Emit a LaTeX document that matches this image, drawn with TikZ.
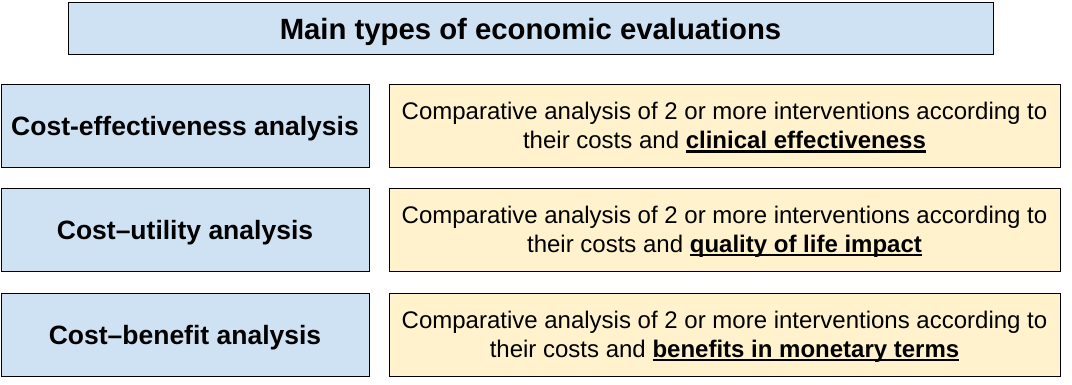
\documentclass[tikz,border=0pt]{standalone}
\usepackage{fontspec}
\setmainfont{Liberation Sans}
\definecolor{boxblue}{HTML}{CFE2F3}
\definecolor{boxyellow}{HTML}{FFF2CC}
\newcommand\ulbar[1]{\setbox0\hbox{#1}\rlap{\rule[-3.6pt]{\wd0}{2.2pt}}\box0}
\begin{document}
\begin{tikzpicture}[x=1pt,y=-1pt,
  box/.style={draw=black, line width=0.9pt, inner sep=0pt},
  txt/.style={inner sep=0pt, align=center},
  titlebox/.style={box, fill=boxblue, minimum width=925pt, minimum height=52pt},
  titletext/.style={txt, font=\fontsize{29.3}{33}\selectfont\bfseries},
  typebox/.style={box, fill=boxblue, minimum width=368pt, minimum height=83pt},
  typetext/.style={txt, font=\fontsize{26.5}{30}\selectfont\bfseries},
  descbox/.style={box, fill=boxyellow, minimum width=671pt, minimum height=83pt},
  desctext/.style={txt, font=\fontsize{24}{29}\selectfont}]
\useasboundingbox (0,0) rectangle (1072,384);
\node[titlebox] (title) at (530.5,28) {};
\node[titletext] (titlet) at ([yshift=-3.5pt]title.center) {Main types of economic evaluations};
\node[typebox] (cea) at (185,125.5) {};
\node[typebox] (cua) at (185,230) {};
\node[typebox] (cba) at (185,335) {};
\node[typetext] (ceat) at ([yshift=-3pt]cea.center) {Cost-effectiveness analysis};
\node[typetext] (cuat) at ([yshift=-3pt]cua.center) {Cost–utility analysis};
\node[typetext] (cbat) at ([yshift=-3pt]cba.center) {Cost–benefit analysis};
\node[descbox] (dcea) at (724.5,125.5) {};
\node[descbox] (dcua) at (724.5,230) {};
\node[descbox] (dcba) at (724.5,335) {};
\node[desctext] (dceat) at ([yshift=-2pt]dcea.center) {Comparative analysis of 2 or more interventions according to\\their costs and \textbf{\ulbar{clinical effectiveness}}};
\node[desctext] (dcuat) at ([yshift=-2pt]dcua.center) {Comparative analysis of 2 or more interventions according to\\their costs and \textbf{\ulbar{quality of life impact}}};
\node[desctext] (dcbat) at ([yshift=-2pt]dcba.center) {Comparative analysis of 2 or more interventions according to\\their costs and \textbf{\ulbar{benefits in monetary terms}}};
\end{tikzpicture}
\end{document}
